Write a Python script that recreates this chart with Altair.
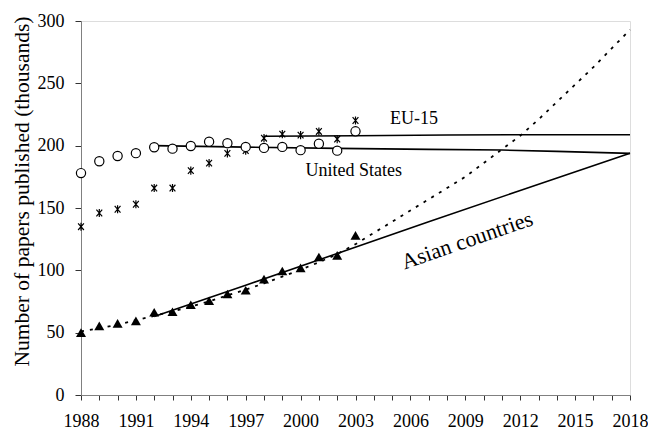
import altair as alt
import pandas as pd

# Observed data (thousands of papers)
years = list(range(1988, 2004))
us_obs = [178, 187.5, 191.7, 194, 198.7, 197.6, 199.7, 203.2, 202, 199, 198.2, 199, 196.4, 201.5, 196, 211.5]
eu_obs = [135, 146, 149, 153, 166, 166, 180, 186, 193.8, 196, 206, 209.3, 208.5, 211.4, 205.3, 220.2]
asia_obs = [50, 55.5, 57.5, 59.5, 66.4, 66.8, 72.4, 75.6, 81, 84, 93, 99.5, 102, 110.7, 112, 128]

# Trend lines
us_trend_years = [1992, 1997, 2002, 2007, 2011, 2014, 2018]
us_trend = [200, 198.8, 197.8, 197, 196.5, 195.4, 193.8]
eu_trend_years = [1998, 2003, 2008, 2013, 2018]
eu_trend = [207.5, 208, 208.5, 208.8, 208.8]
asia_trend_years = [1992, 1997, 2002, 2007, 2012, 2018]
asia_trend = [63, 88, 113.5, 139, 164, 194]
asia_proj_years = list(range(1988, 2019))
asia_proj = [51, 53.5, 56.5, 60, 63.5, 67, 71, 75, 80, 84.5, 89.5, 95, 100.5, 106.5, 113,
             121, 130, 139, 148, 157, 166, 175, 186, 197, 208, 221, 235, 249, 263, 278, 293]

# Axis ticks
x_tick_values = list(range(1988, 2019))
y_tick_values = [0, 50, 100, 150, 200, 250, 300]

# Annotations
ann_text = ["EU-15", "United States"]
ann_year = [2006.2, 2002.9]
ann_val = [221.5, 179.4]
asia_label = ["Asian countries"]
asia_label_year = [2009.1]
asia_label_val = [124.0]

FONT = "Liberation Serif, Times New Roman, Times, serif"

xs = alt.Scale(domain=[1988, 2018], nice=False, zero=False)
ys = alt.Scale(domain=[0, 300], nice=False)

x_axis = alt.Axis(
    values=x_tick_values,
    format="d",
    labelExpr="(datum.value - 1988) % 3 == 0 ? datum.label : ''",
    labelOverlap=False,
    labelBound=False,
    labelFlush=False,
    grid=False,
    tickSize=5,
    tickColor="#333333",
    domainColor="#808080",
    labelFont=FONT,
    labelFontSize=18,
    labelColor="#000000",
    labelPadding=12,
    title=None,
)
y_axis = alt.Axis(
    values=y_tick_values,
    grid=False,
    tickSize=6,
    tickColor="#333333",
    domainColor="#808080",
    labelFont=FONT,
    labelFontSize=18,
    labelColor="#000000",
    labelPadding=11,
    labelOverlap=False,
    title="Number of papers published (thousands)",
    titleFont=FONT,
    titleFontSize=21.5,
    titleFontWeight="normal",
    titleColor="#000000",
    titlePadding=4,
    titleY=170,
)

X = lambda: alt.X("year:Q", scale=xs, axis=x_axis)
Y = lambda f: alt.Y(f, scale=ys, axis=y_axis)

obs = pd.DataFrame({"year": years, "us": us_obs, "eu": eu_obs, "asia": asia_obs})

def line_df(xv, yv, name):
    return pd.DataFrame({"year": xv, "val": yv, "series": name})

trends = pd.concat([
    line_df(us_trend_years, us_trend, "us"),
    line_df(eu_trend_years, eu_trend, "eu"),
    line_df(asia_trend_years, asia_trend, "asia"),
])
proj = line_df(asia_proj_years, asia_proj, "proj")

proj_line = alt.Chart(proj).mark_line(color="black", strokeWidth=1.8, strokeDash=[3, 6]).encode(
    x=X(), y=Y("val:Q")
)
trend_lines = alt.Chart(trends).mark_line(color="black", strokeWidth=1.6).encode(
    x=X(), y=Y("val:Q"), detail="series:N"
)
tri = alt.Chart(obs).mark_point(shape="triangle-up", filled=True, color="black", size=100, opacity=1).encode(
    x=X(), y=Y("asia:Q")
)
star = alt.Chart(obs).mark_point(
    shape="M-0.75,-0.85L0.75,0.85M0.75,-0.85L-0.75,0.85M0,-1.05L0,1.05",
    filled=False, stroke="black", strokeWidth=1.2, size=60, opacity=1
).encode(x=X(), y=Y("eu:Q"))
circ = alt.Chart(obs).mark_point(
    shape="circle", filled=True, fill="white", stroke="black", strokeWidth=1.2, size=85, opacity=1
).encode(x=X(), y=Y("us:Q"))

ann = alt.Chart(pd.DataFrame({"t": ann_text, "year": ann_year, "val": ann_val})).mark_text(
    font=FONT, fontSize=18, color="black", align="center", baseline="middle"
).encode(x=X(), y=Y("val:Q"), text="t:N")

asia_ann = alt.Chart(pd.DataFrame({"t": asia_label, "year": asia_label_year, "val": asia_label_val})).mark_text(
    font=FONT, fontSize=22, color="black", align="center", baseline="middle", angle=341
).encode(x=X(), y=Y("val:Q"), text="t:N")

chart = alt.layer(proj_line, trend_lines, tri, star, circ, ann, asia_ann).properties(
    width=549,
    height=374,
    autosize=alt.AutoSizeParams(type="none"),
    padding={"left": 73, "top": 13, "right": 18, "bottom": 36},
).configure_view(stroke=None).configure(background="white")

chart.save("out.html", embed_options={"renderer": "svg", "actions": False})
